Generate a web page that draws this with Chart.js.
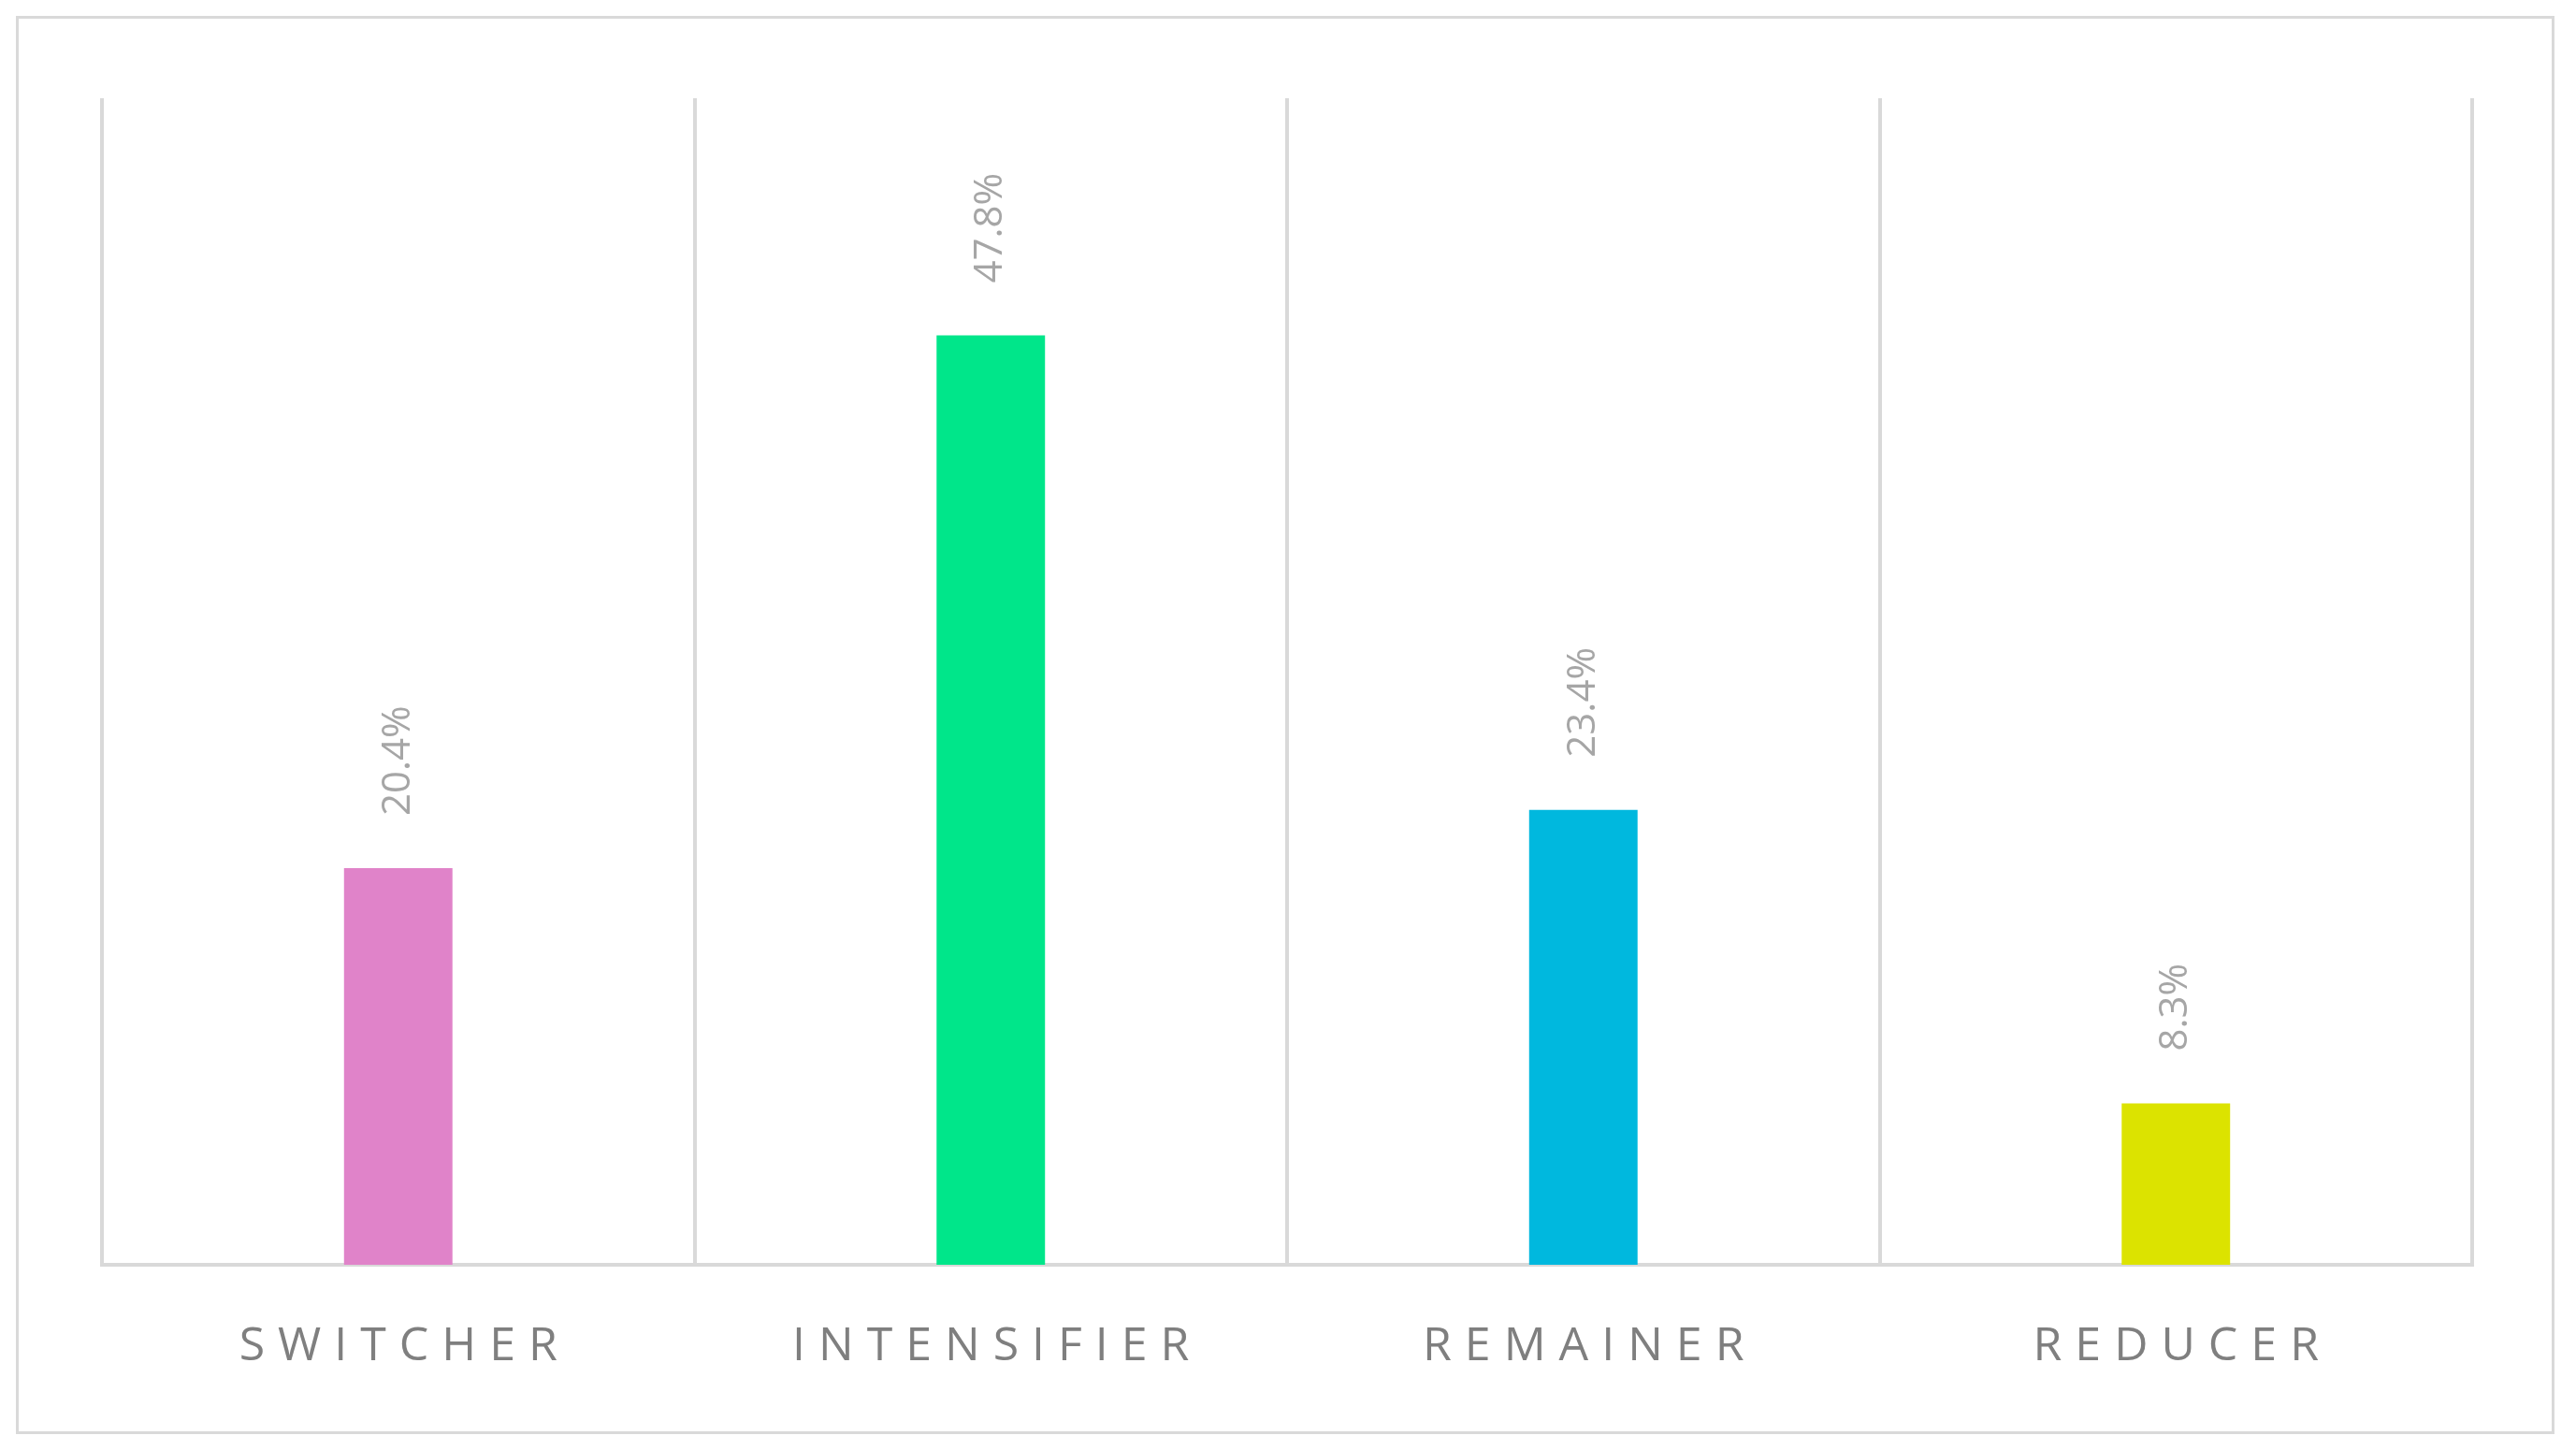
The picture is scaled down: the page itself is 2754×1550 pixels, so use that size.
<!DOCTYPE html>
<html>
<head>
<meta charset="utf-8">
<script src="https://cdn.jsdelivr.net/npm/chart.js@4"></script>
<style>
  html, body { margin: 0; padding: 0; background: #fff; }
  #wrap { position: relative; width: 2754px; height: 1550px; }
  #frame { position: absolute; left: 17px; top: 17px; width: 2714px; height: 1516px; border: 3px solid #d9d9d9; box-sizing: border-box; }
  canvas { position: absolute; left: 0; top: 0; }
</style>
</head>
<body>
<div id="wrap">
  <div id="frame"></div>
  <canvas id="chart" width="2754" height="1550"></canvas>
</div>
<script>
// chart values
const categories = ['SWITCHER', 'INTENSIFIER', 'REMAINER', 'REDUCER'];
const shares = [20.4, 47.8, 23.4, 8.3];
const barColors = ['#e083c9', '#00e68a', '#00b8de', '#dce300'];

// draws the rotated value labels and the spaced-out category names
const labelPlugin = {
  id: 'labelPlugin',
  afterDatasetsDraw(chart) {
    const ctx = chart.ctx;
    const meta = chart.getDatasetMeta(0);
    const xScale = chart.scales.x;
    ctx.save();
    meta.data.forEach((bar, i) => {
      ctx.save();
      ctx.translate(bar.x, bar.y - 56);
      ctx.rotate(-Math.PI / 2);
      ctx.fillStyle = '#a6a6a6';
      ctx.font = '42px "Open Sans", "Liberation Sans", sans-serif';
      ctx.textAlign = 'left';
      ctx.textBaseline = 'middle';
      ctx.fillText(shares[i].toFixed(1) + '%', 0, 0);
      ctx.restore();
    });
    ctx.fillStyle = '#7f7f7f';
    ctx.font = '50px "Open Sans", "Liberation Sans", sans-serif';
    ctx.letterSpacing = '14px';
    ctx.textAlign = 'center';
    ctx.textBaseline = 'middle';
    categories.forEach((c, i) => {
      ctx.fillText(c, xScale.getPixelForValue(i) + 7, 1440);
    });
    ctx.restore();
  }
};

new Chart(document.getElementById('chart'), {
  type: 'bar',
  data: {
    labels: categories,
    datasets: [{
      data: shares,
      backgroundColor: barColors,
      categoryPercentage: 1.0,
      barPercentage: 0.183
    }]
  },
  options: {
    responsive: false,
    animation: false,
    layout: { padding: { left: 109, right: 111, top: 105, bottom: 198 } },
    plugins: { legend: { display: false }, tooltip: { enabled: false } },
    scales: {
      x: {
        offset: true,
        ticks: { display: false },
        grid: { offset: true, color: '#d9d9d9', lineWidth: 4, drawTicks: false },
        border: { color: '#d9d9d9', width: 4 }
      },
      y: {
        display: false,
        min: 0,
        max: 60
      }
    }
  },
  plugins: [labelPlugin]
});
</script>
</body>
</html>
